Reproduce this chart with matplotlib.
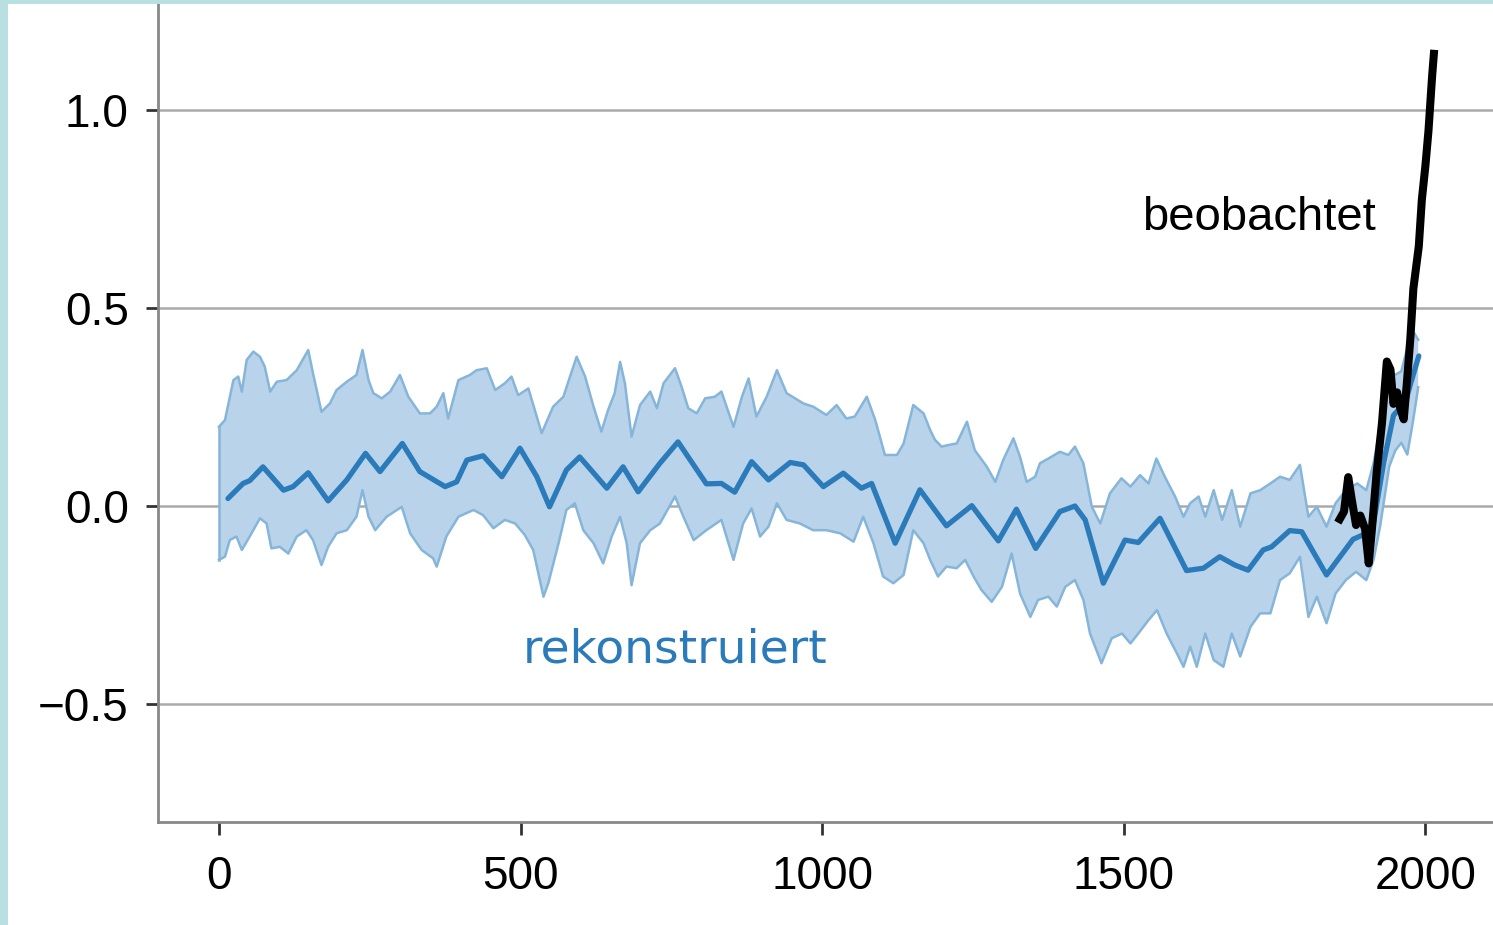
import numpy as np
import matplotlib
matplotlib.use("Agg")
import matplotlib.pyplot as plt
from matplotlib.patches import Rectangle

# =========================
# daten
# =========================

rek_jahre = [15, 40, 51, 73, 107, 123, 148, 181, 212, 243, 267, 304, 333, 375, 394,
             411, 438, 469, 499, 527, 548, 576, 598, 643, 670, 695, 731, 761, 808,
             833, 855, 883, 911, 947, 969, 1002, 1035, 1065, 1082, 1121, 1162, 1206,
             1248, 1292, 1322, 1354, 1394, 1419, 1436, 1466, 1502, 1524, 1560, 1604,
             1632, 1659, 1684, 1706, 1731, 1745, 1775, 1795, 1836, 1880, 1902, 1914,
             1931, 1947, 1967, 1975, 1989]
rek_werte = [0.019, 0.057, 0.064, 0.099, 0.040, 0.049, 0.084, 0.013, 0.066, 0.133,
             0.087, 0.158, 0.087, 0.049, 0.061, 0.116, 0.127, 0.074, 0.146, 0.074,
             -0.002, 0.091, 0.124, 0.045, 0.099, 0.036, 0.108, 0.162, 0.056, 0.057,
             0.035, 0.112, 0.066, 0.110, 0.104, 0.049, 0.083, 0.045, 0.057, -0.094,
             0.041, -0.050, 0.001, -0.088, -0.008, -0.107, -0.014, 0.000, -0.035,
             -0.195, -0.086, -0.092, -0.031, -0.163, -0.157, -0.128, -0.149, -0.162,
             -0.111, -0.103, -0.062, -0.065, -0.174, -0.084, -0.069, -0.043, 0.112,
             0.229, 0.263, 0.307, 0.379]

oben_jahre = [0, 10, 24, 32, 38, 46, 57, 68, 76, 85, 96, 112, 129, 148, 156, 170, 184,
              195, 212, 228, 238, 248, 256, 270, 284, 300, 314, 333, 350, 361, 372, 380,
              397, 416, 427, 444, 458, 474, 485, 496, 513, 535, 554, 571, 582, 593, 607,
              621, 634, 645, 656, 665, 673, 684, 698, 715, 726, 737, 756, 767, 778, 792,
              806, 822, 833, 853, 867, 878, 891, 908, 925, 941, 955, 969, 985, 1007,
              1024, 1040, 1054, 1074, 1088, 1104, 1124, 1135, 1151, 1168, 1179, 1187,
              1198, 1209, 1223, 1240, 1253, 1273, 1287, 1300, 1317, 1328, 1339, 1353,
              1361, 1375, 1394, 1408, 1419, 1433, 1447, 1461, 1477, 1496, 1511, 1527,
              1541, 1554, 1568, 1585, 1599, 1610, 1624, 1635, 1649, 1663, 1679, 1693,
              1710, 1726, 1743, 1759, 1775, 1792, 1806, 1820, 1836, 1851, 1868, 1887,
              1902, 1914, 1925, 1937, 1948, 1960, 1970, 1980, 1988]
oben_werte = [0.200, 0.217, 0.318, 0.327, 0.289, 0.369, 0.390, 0.377, 0.352, 0.289,
              0.314, 0.318, 0.343, 0.394, 0.335, 0.238, 0.259, 0.293, 0.314, 0.331,
              0.394, 0.318, 0.285, 0.272, 0.289, 0.331, 0.276, 0.234, 0.234, 0.251,
              0.285, 0.221, 0.318, 0.331, 0.343, 0.348, 0.293, 0.310, 0.327, 0.280,
              0.297, 0.184, 0.251, 0.276, 0.327, 0.377, 0.327, 0.251, 0.188, 0.242,
              0.285, 0.364, 0.310, 0.175, 0.255, 0.289, 0.247, 0.310, 0.348, 0.301,
              0.247, 0.234, 0.272, 0.276, 0.289, 0.200, 0.276, 0.322, 0.226, 0.276,
              0.343, 0.285, 0.272, 0.259, 0.251, 0.230, 0.255, 0.221, 0.226, 0.276,
              0.217, 0.129, 0.129, 0.158, 0.255, 0.234, 0.192, 0.167, 0.150, 0.154,
              0.158, 0.213, 0.141, 0.099, 0.061, 0.116, 0.171, 0.124, 0.061, 0.074,
              0.108, 0.120, 0.137, 0.129, 0.150, 0.108, -0.002, -0.044, 0.032, 0.070,
              0.049, 0.078, 0.057, 0.120, 0.074, 0.024, -0.027, 0.007, 0.024, -0.027,
              0.040, -0.035, 0.040, -0.052, 0.032, 0.040, 0.057, 0.074, 0.066, 0.104,
              -0.027, -0.002, -0.052, 0.007, 0.040, 0.057, 0.040, 0.108, 0.200, 0.360,
              0.330, 0.340, 0.400, 0.440, 0.420]

unten_jahre = [0, 10, 18, 29, 38, 51, 68, 79, 87, 101, 115, 129, 145, 156, 170, 181,
               195, 212, 228, 238, 248, 259, 278, 303, 317, 336, 355, 361, 377, 397,
               422, 438, 455, 474, 491, 507, 521, 538, 546, 563, 576, 590, 604, 621,
               637, 651, 665, 676, 684, 698, 715, 731, 742, 756, 770, 787, 808, 833,
               853, 869, 883, 897, 911, 925, 941, 963, 985, 1007, 1030, 1052, 1068,
               1085, 1101, 1118, 1135, 1151, 1168, 1179, 1192, 1206, 1223, 1237, 1251,
               1264, 1281, 1298, 1314, 1328, 1345, 1358, 1375, 1389, 1403, 1419, 1433,
               1444, 1463, 1480, 1497, 1511, 1524, 1541, 1555, 1571, 1588, 1599, 1610,
               1621, 1635, 1649, 1665, 1679, 1693, 1710, 1726, 1743, 1759, 1775, 1792,
               1806, 1820, 1836, 1851, 1868, 1885, 1902, 1914, 1925, 1940, 1950, 1960,
               1970, 1980, 1988]
unten_werte = [-0.136, -0.128, -0.086, -0.077, -0.111, -0.077, -0.031, -0.044, -0.107,
               -0.103, -0.120, -0.077, -0.061, -0.086, -0.149, -0.103, -0.069, -0.061,
               -0.027, 0.040, -0.027, -0.061, -0.027, -0.002, -0.069, -0.111, -0.132,
               -0.153, -0.077, -0.027, -0.010, -0.023, -0.056, -0.035, -0.044, -0.073,
               -0.111, -0.229, -0.195, -0.094, -0.010, 0.007, -0.061, -0.094, -0.145,
               -0.077, -0.027, -0.094, -0.200, -0.094, -0.061, -0.044, -0.014, 0.024,
               -0.027, -0.086, -0.061, -0.035, -0.136, -0.044, -0.006, -0.077, -0.052,
               0.007, -0.035, -0.044, -0.061, -0.061, -0.069, -0.090, -0.027, -0.094,
               -0.178, -0.195, -0.174, -0.061, -0.094, -0.136, -0.178, -0.153, -0.157,
               -0.136, -0.178, -0.212, -0.242, -0.204, -0.120, -0.221, -0.280, -0.237,
               -0.229, -0.254, -0.204, -0.187, -0.237, -0.322, -0.397, -0.334, -0.322,
               -0.347, -0.322, -0.288, -0.263, -0.322, -0.372, -0.406, -0.355, -0.406,
               -0.322, -0.389, -0.406, -0.322, -0.380, -0.305, -0.271, -0.271, -0.187,
               -0.170, -0.128, -0.280, -0.229, -0.296, -0.221, -0.187, -0.166, -0.187,
               -0.136, -0.050, 0.100, 0.140, 0.160, 0.130, 0.220, 0.300]

beob_jahre = [1858, 1865, 1872, 1878, 1885, 1892, 1900, 1906, 1911, 1919, 1928, 1936,
              1942, 1947, 1953, 1958, 1964, 1969, 1975, 1980, 1989, 1994, 2000, 2005,
              2011, 2014]
beob_werte = [-0.033, -0.014, 0.073, 0.015, -0.048, -0.024, -0.058, -0.145, -0.063,
              0.083, 0.210, 0.365, 0.345, 0.258, 0.287, 0.248, 0.219, 0.307, 0.423,
              0.549, 0.656, 0.773, 0.860, 0.947, 1.084, 1.142]

x_ticks = [0, 500, 1000, 1500, 2000]
y_ticks = [-0.5, 0.0, 0.5, 1.0]

# =========================
# figur
# =========================

blau = "#2b7bba"
fig = plt.figure(figsize=(14.93, 9.25), dpi=100, facecolor="white")
ax = fig.add_axes([158 / 1493, 103 / 925, 1 - 158 / 1493, 1 - 103 / 925])
ax.set_facecolor("white")

# unsicherheitsband als polygon
band_x = np.concatenate([oben_jahre, unten_jahre[::-1]])
band_y = np.concatenate([oben_werte, unten_werte[::-1]])
ax.fill(band_x, band_y, color="#b9d4ea", lw=0, zorder=2)
ax.plot(oben_jahre, oben_werte, color="#86b5da", lw=1.8, zorder=2.5)
ax.plot(unten_jahre, unten_werte, color="#86b5da", lw=1.8, zorder=2.5)
ax.plot([oben_jahre[0], unten_jahre[0]], [oben_werte[0], unten_werte[0]],
        color="#86b5da", lw=1.8, zorder=2.5)

ax.plot(rek_jahre, rek_werte, color=blau, lw=3.8, solid_joinstyle="round",
        solid_capstyle="round", zorder=3)
ax.plot(beob_jahre, beob_werte, color="black", lw=5.8, solid_joinstyle="round", zorder=4)

ax.set_xlim(-101, 2112)
ax.set_ylim(-0.798, 1.278)
ax.set_xticks(x_ticks)
ax.set_yticks(y_ticks)
ax.set_xticklabels([str(t) for t in x_ticks])
ax.set_yticklabels(["\u22120.5", "0.0", "0.5", "1.0"])

ax.grid(axis="y", color="#aaaaaa", lw=1.8, zorder=1)
ax.set_axisbelow(True)
for s in ["top", "right"]:
    ax.spines[s].set_visible(False)
for s in ["left", "bottom"]:
    ax.spines[s].set_color("#888888")
    ax.spines[s].set_linewidth(2)

ax.tick_params(axis="both", length=9, width=2, color="#333333",
               labelsize=33, labelcolor="black")
ax.tick_params(axis="y", pad=12)
ax.tick_params(axis="x", pad=15)
for lab in ax.get_xticklabels() + ax.get_yticklabels():
    lab.set_fontfamily("Liberation Sans")

ax.text(1531, 0.697, "beobachtet", fontsize=34, family="Liberation Sans",
        color="black", ha="left", va="baseline")
ax.text(504, -0.396, "rekonstruiert", fontsize=34, family="DejaVu Sans",
        color=blau, ha="left", va="baseline")

# rahmen links und oben
teal = "#b8dfe2"
fig.patches.append(Rectangle((0, 0), 8 / 1493, 1, transform=fig.transFigure,
                             facecolor=teal, edgecolor="none", zorder=10))
fig.patches.append(Rectangle((0, 1 - 4 / 925), 1, 4 / 925, transform=fig.transFigure,
                             facecolor=teal, edgecolor="none", zorder=10))

fig.savefig("out.png", dpi=100, facecolor=fig.get_facecolor())
